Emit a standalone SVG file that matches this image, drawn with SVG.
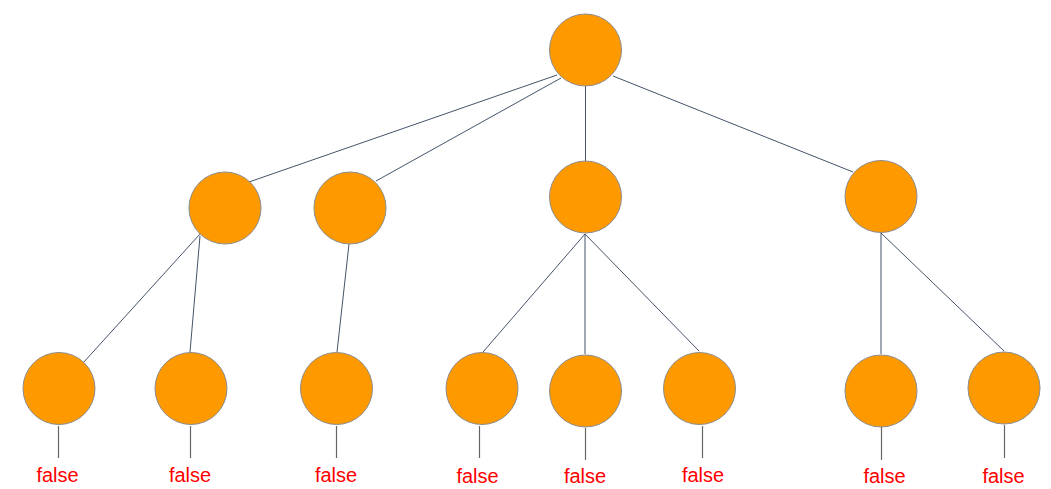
<svg xmlns="http://www.w3.org/2000/svg" width="1051" height="489" viewBox="0 0 1051 489">
<style>
.n{fill:#fe9900;stroke:#8c8c8c;stroke-width:1}
.e{stroke:#44546a;stroke-width:1;fill:none}
.s{stroke:#666;stroke-width:1.2;fill:none}
.t{font-family:"Liberation Sans",Arial,sans-serif;font-size:20px;fill:#ff0000;text-anchor:middle}
</style>
<rect width="1051" height="489" fill="#fff"/>
<g id="connectors">
<line class="e" x1="557" y1="75" x2="249" y2="182"/>
<line class="e" x1="561" y1="78" x2="376" y2="181"/>
<line class="e" x1="585.5" y1="86" x2="585.5" y2="161"/>
<line class="e" x1="613" y1="76" x2="853" y2="172"/>
<line class="e" x1="200" y1="234" x2="83" y2="363"/>
<line class="e" x1="200" y1="236" x2="190" y2="352"/>
<line class="e" x1="349" y1="244" x2="337" y2="352"/>
<line class="e" x1="585" y1="234" x2="483" y2="352"/>
<line class="e" x1="585" y1="234" x2="585" y2="354"/>
<line class="e" x1="585" y1="234" x2="699" y2="351"/>
<line class="e" x1="881" y1="233" x2="881" y2="354"/>
<line class="e" x1="881" y1="233" x2="1004" y2="351"/>
<line class="s" x1="58.5" y1="426" x2="58.5" y2="458"/>
<line class="s" x1="190.5" y1="426" x2="190.5" y2="458"/>
<line class="s" x1="336.5" y1="426" x2="336.5" y2="458"/>
<line class="s" x1="479.5" y1="426" x2="479.5" y2="458"/>
<line class="s" x1="585.5" y1="428" x2="585.5" y2="460"/>
<line class="s" x1="702.5" y1="426" x2="702.5" y2="458"/>
<line class="s" x1="881.5" y1="427" x2="881.5" y2="460"/>
<line class="s" x1="1004.5" y1="425" x2="1004.5" y2="458"/>
</g>
<g id="root"><circle class="n" cx="585.5" cy="50" r="36"/></g>
<g id="n1"><circle class="n" cx="225" cy="208" r="36"/></g>
<g id="n2"><circle class="n" cx="350" cy="208" r="36"/></g>
<g id="n3"><circle class="n" cx="585.5" cy="197" r="36"/></g>
<g id="n4"><circle class="n" cx="881" cy="196.5" r="36"/></g>
<g id="l1"><circle class="n" cx="59" cy="388.5" r="36"/><text class="t" x="57.5" y="482">false</text></g>
<g id="l2"><circle class="n" cx="191" cy="388.5" r="36"/><text class="t" x="190" y="482">false</text></g>
<g id="l3"><circle class="n" cx="336.5" cy="388.5" r="36"/><text class="t" x="336" y="482">false</text></g>
<g id="l4"><circle class="n" cx="482" cy="388.5" r="36"/><text class="t" x="477.5" y="483">false</text></g>
<g id="l5"><circle class="n" cx="585.5" cy="391" r="36"/><text class="t" x="585" y="483">false</text></g>
<g id="l6"><circle class="n" cx="699.5" cy="388.5" r="36"/><text class="t" x="703" y="482">false</text></g>
<g id="l7"><circle class="n" cx="881" cy="391" r="36"/><text class="t" x="884.5" y="483">false</text></g>
<g id="l8"><circle class="n" cx="1004" cy="388" r="36"/><text class="t" x="1003.5" y="483">false</text></g>
</svg>
